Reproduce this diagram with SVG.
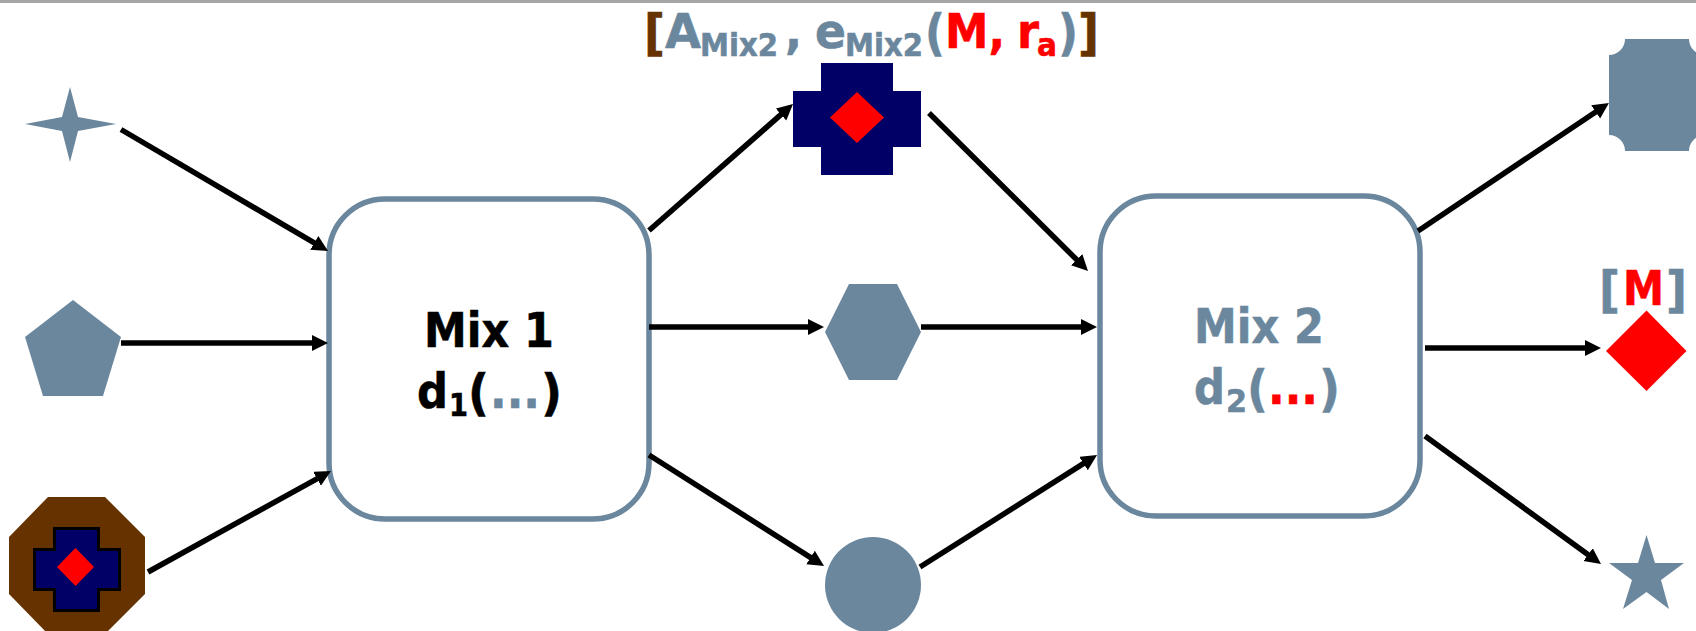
<svg xmlns="http://www.w3.org/2000/svg" width="1696" height="631" viewBox="0 0 1696 631">
<style>
.s{fill:#6b879e}.r{fill:#f00}.n{fill:#006}.b{fill:#630}.k{fill:#000}
.box{fill:#fff;stroke:#6b879e;stroke-width:5.5}
.t{font-family:"DejaVu Sans",Verdana,sans-serif;font-weight:700;font-size:48px;stroke:#000;stroke-width:.6}
text.s,tspan.s{stroke:#6b879e}
tspan.r{stroke:#f00}
tspan.b{stroke:#630}
.u{font-size:32px}
.p{font-size:50px}
#connectors line{stroke:#000;stroke-width:5.5;marker-end:url(#a)}
</style>
<defs><marker id="a" markerUnits="userSpaceOnUse" markerWidth="18" markerHeight="18" refX="4" refY="8" orient="auto"><path d="M0,0L16,8L0,16z"/></marker></defs>
<rect width="1696" height="631" fill="#fff"/>
<rect width="1696" height="3" fill="#a6a6a6"/>
<g id="mix1"><rect class="box" x="329" y="199" width="320" height="320" rx="56"/>
<text class="t"><tspan x="424" y="347" textLength="130" lengthAdjust="spacingAndGlyphs">Mix 1</tspan><tspan x="417" y="408" textLength="31" lengthAdjust="spacingAndGlyphs">d</tspan><tspan class="u" x="449" y="416" textLength="19" lengthAdjust="spacingAndGlyphs">1</tspan><tspan class="p" x="468" y="410" textLength="21" lengthAdjust="spacingAndGlyphs">(</tspan><tspan class="s" x="490" y="408" textLength="50" lengthAdjust="spacingAndGlyphs">...</tspan><tspan class="p" x="541" y="410" textLength="21" lengthAdjust="spacingAndGlyphs">)</tspan></text></g>
<g id="mix2"><rect class="box" x="1100" y="196" width="320" height="320" rx="56"/>
<text class="t s"><tspan x="1194" y="343" textLength="130" lengthAdjust="spacingAndGlyphs">Mix 2</tspan><tspan x="1194" y="404" textLength="31" lengthAdjust="spacingAndGlyphs">d</tspan><tspan class="u" x="1226" y="412" textLength="21" lengthAdjust="spacingAndGlyphs">2</tspan><tspan class="p" x="1247" y="406" textLength="21" lengthAdjust="spacingAndGlyphs">(</tspan><tspan class="r" x="1268" y="404" textLength="50" lengthAdjust="spacingAndGlyphs">...</tspan><tspan class="p" x="1319" y="406" textLength="21" lengthAdjust="spacingAndGlyphs">)</tspan></text></g>
<g id="title"><text class="t s"><tspan class="b p" x="644" y="50" textLength="21" lengthAdjust="spacingAndGlyphs">[</tspan><tspan x="665" y="48" textLength="36" lengthAdjust="spacingAndGlyphs">A</tspan><tspan class="u" x="700" y="56" textLength="78" lengthAdjust="spacingAndGlyphs">Mix2</tspan><tspan x="785" y="48" textLength="17" lengthAdjust="spacingAndGlyphs">,</tspan><tspan x="815" y="48" textLength="31" lengthAdjust="spacingAndGlyphs">e</tspan><tspan class="u" x="845" y="56" textLength="78" lengthAdjust="spacingAndGlyphs">Mix2</tspan><tspan class="p" x="925" y="50" textLength="20" lengthAdjust="spacingAndGlyphs">(</tspan><tspan class="r" x="945" y="48" textLength="60" lengthAdjust="spacingAndGlyphs">M,</tspan><tspan class="r" x="1017" y="48" textLength="22" lengthAdjust="spacingAndGlyphs">r</tspan><tspan class="u r" x="1037" y="56" textLength="20" lengthAdjust="spacingAndGlyphs">a</tspan><tspan class="p" x="1058" y="50" textLength="20" lengthAdjust="spacingAndGlyphs">)</tspan><tspan class="b p" x="1078" y="50" textLength="21" lengthAdjust="spacingAndGlyphs">]</tspan></text></g>
<g id="star4"><polygon class="s" points="70,87 78,117 116,124 78,131 70,162 62,131 25,124 62,117"/></g>
<g id="pentagon"><polygon class="s" points="73,300 121,337 103,396 43,396 25,337"/></g>
<g id="octagon"><polygon class="b" points="48,497 105,497 145,537 145,594 105,634 48,634 9,594 9,537"/>
<polygon class="n" stroke="#000" stroke-width="3" points="54.5,528.5 98.5,528.5 98.5,549.5 119.5,549.5 119.5,589.5 98.5,589.5 98.5,610.5 54.5,610.5 54.5,589.5 34.5,589.5 34.5,549.5 54.5,549.5"/>
<polygon class="r" points="75.5,548 94,567 75.5,586 57,567"/></g>
<g id="cross"><polygon class="n" points="821,63 893,63 893,91 921,91 921,147 893,147 893,175 821,175 821,147 793,147 793,91 821,91"/>
<polygon class="r" points="857,92 884,117.500 857,143 830,117.500"/></g>
<g id="hexagon"><polygon class="s" points="849,284 897,284 921,332 897,380 849,380 825,332"/></g>
<g id="circle"><circle class="s" cx="873" cy="585" r="48"/></g>
<g id="plaque"><path class="s" d="M1625,39H1689A16,16 0 0 0 1705,55V135A16,16 0 0 0 1689,151H1625A16,16 0 0 0 1609,135V55A16,16 0 0 0 1625,39z"/></g>
<g id="mnode"><text class="t"><tspan class="s p" x="1599" y="307" textLength="21" lengthAdjust="spacingAndGlyphs">[</tspan><tspan class="r" x="1623" y="305" textLength="41" lengthAdjust="spacingAndGlyphs">M</tspan><tspan class="s p" x="1666" y="307" textLength="21" lengthAdjust="spacingAndGlyphs">]</tspan></text>
<polygon class="r" points="1646.500,310.500 1686.500,351 1646.500,391 1606,351"/></g>
<g id="star5"><polygon class="s" points="1646.500,535 1655,563 1684,563 1661,580 1669,609 1646.500,592 1623,609 1632,580 1609,563 1638,563"/></g>
<g id="connectors">
<line x1="121" y1="129.500" x2="317.700" y2="244.900"/>
<line x1="121" y1="343" x2="316" y2="343"/>
<line x1="148" y1="572" x2="320.500" y2="476.800"/>
<line x1="649" y1="230.500" x2="784" y2="111.900"/>
<line x1="649" y1="327" x2="812" y2="327"/>
<line x1="649" y1="455" x2="813.900" y2="559.600"/>
<line x1="929" y1="113" x2="1079.500" y2="262.500"/>
<line x1="921" y1="327" x2="1085" y2="327"/>
<line x1="920" y1="567" x2="1086.900" y2="461.400"/>
<line x1="1418" y1="231" x2="1599" y2="109.700"/>
<line x1="1425" y1="348" x2="1589" y2="348"/>
<line x1="1425" y1="436" x2="1591.300" y2="557"/>
</g>
</svg>
